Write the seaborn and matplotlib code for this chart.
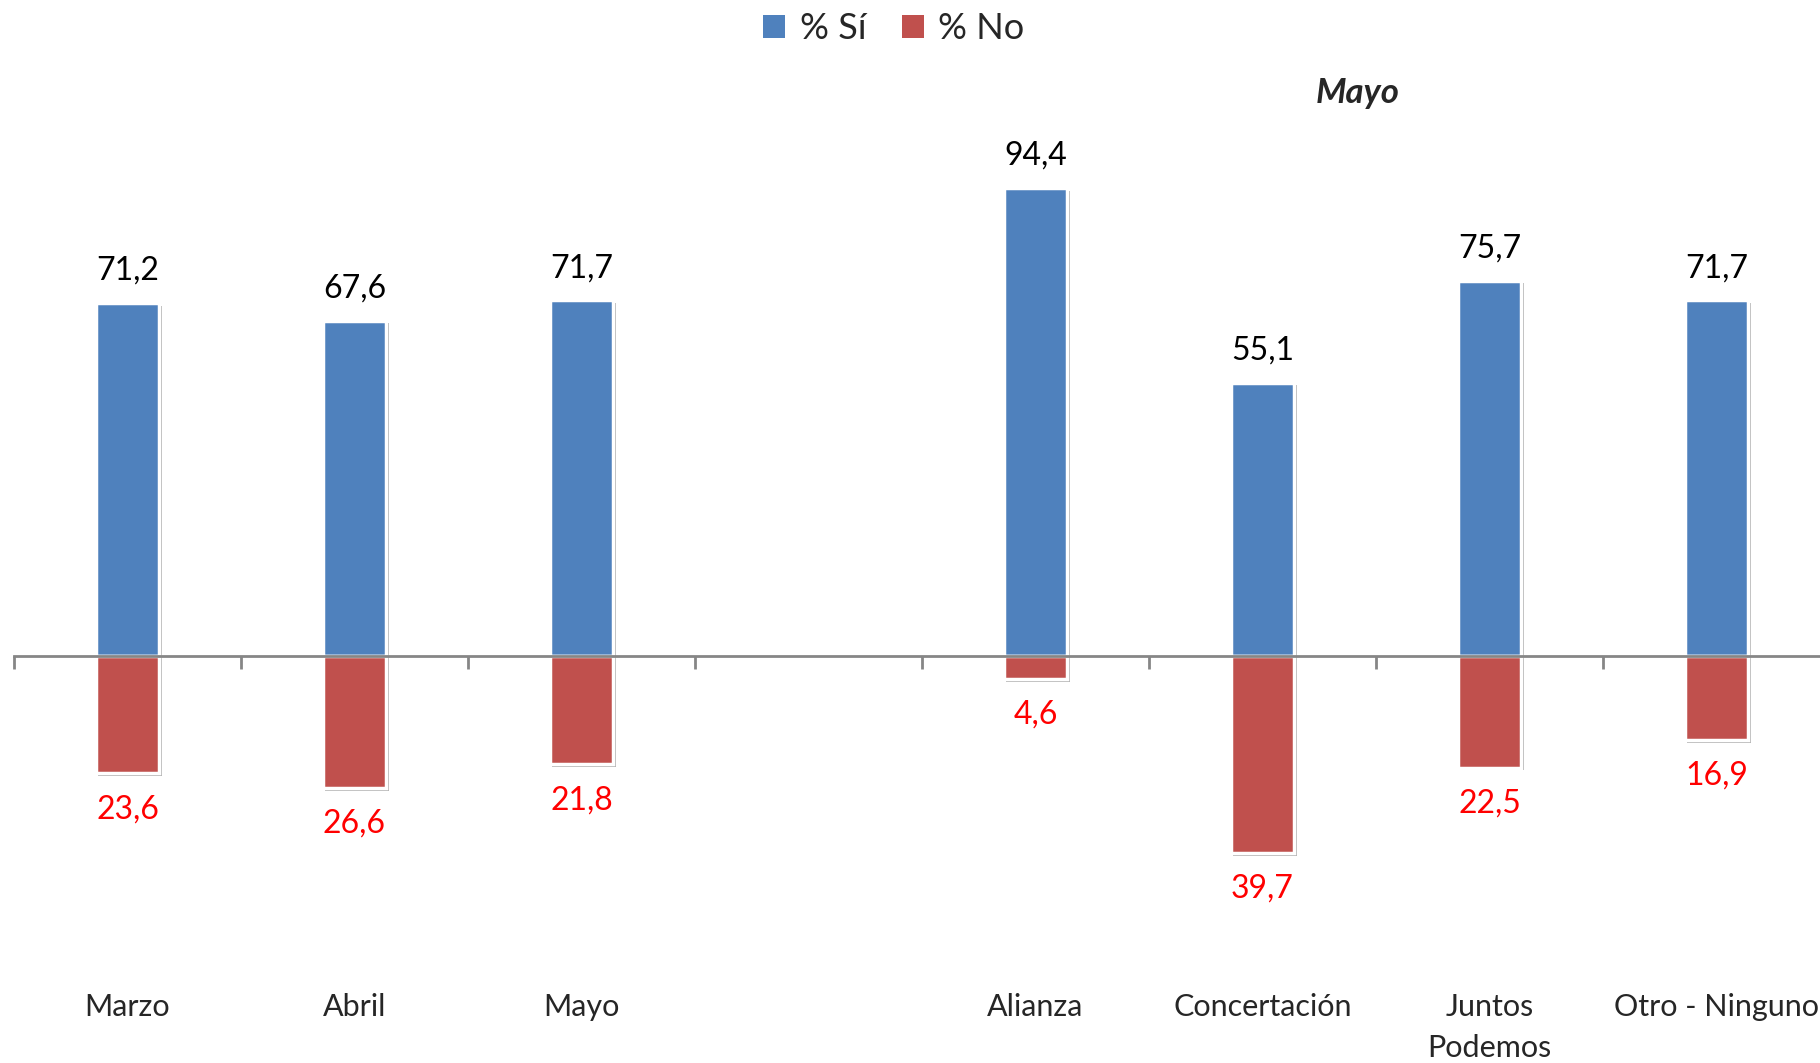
import numpy as np
import pandas as pd
import seaborn as sns
from matplotlib import pyplot as plt
from matplotlib.patches import Patch
from matplotlib.ticker import FixedLocator
import matplotlib.patheffects as pe

# data
categories = ['Marzo', 'Abril', 'Mayo', ' ', 'Alianza', 'Concertación', 'Juntos\nPodemos', 'Otro - Ninguno']
si_values = [71.2, 67.6, 71.7, np.nan, 94.4, 55.1, 75.7, 71.7]
no_values = [23.6, 26.6, 21.8, np.nan, 4.6, 39.7, 22.5, 16.9]
series = ['% Sí', '% No']
colors = ['#4F81BD', '#C0504D']

df = pd.DataFrame({
    'cat': categories * 2,
    'serie': [series[0]] * len(categories) + [series[1]] * len(categories),
    'valor': si_values + [-v for v in no_values],
})

sns.set_style('white')
plt.rcParams['font.family'] = ['Lato', 'DejaVu Sans']

fig = plt.figure(figsize=(18.2, 10.63), dpi=100)
ax = fig.add_axes([14 / 1820, 1 - 900 / 1063, 1806 / 1820, 800 / 1063])

sns.barplot(data=df, x='cat', y='valor', hue='serie', order=categories,
            hue_order=series, palette=colors, dodge=False, width=0.28,
            saturation=1, edgecolor='white', linewidth=2.5, ax=ax, legend=False)

shadow = [pe.SimplePatchShadow(offset=(2, -2), shadow_rgbFace='#000000', alpha=0.3), pe.Normal()]
for p in ax.patches:
    p.set_path_effects(shadow)

ax.set_xlim(-0.5, 7.456)
ax.set_ylim(-49.2, 112.1)

# value labels
for i, (s, n) in enumerate(zip(si_values, no_values)):
    if np.isnan(s):
        continue
    ax.annotate(f'{s:.1f}'.replace('.', ','), (i, s), xytext=(0, 23),
                textcoords='offset points', ha='center', va='center',
                fontsize=23, color='black')
    ax.annotate(f'{n:.1f}'.replace('.', ','), (i, -n), xytext=(0, -26),
                textcoords='offset points', ha='center', va='center',
                fontsize=23, color='#FF0000')

# axis line through zero with boundary ticks
for sp in ['top', 'right', 'left']:
    ax.spines[sp].set_visible(False)
ax.spines['bottom'].set_position(('data', 0))
ax.spines['bottom'].set_color('#868686')
ax.spines['bottom'].set_linewidth(2)
ax.set_yticks([])
ax.set_ylabel('')
ax.set_xlabel('')
ax.xaxis.set_major_locator(FixedLocator(np.arange(-0.5, 8, 1)))
ax.xaxis.set_minor_locator(FixedLocator(np.arange(len(categories))))
ax.xaxis.set_major_formatter(plt.NullFormatter())
ax.set_xticks(np.arange(len(categories)), categories, minor=True)
ax.tick_params(axis='x', which='major', direction='out', length=9, width=2,
               color='#868686', bottom=True)
ax.tick_params(axis='x', which='minor', length=0, pad=243, labelsize=22)
for lbl in ax.get_xticklabels(minor=True):
    lbl.set_verticalalignment('top')
    lbl.set_linespacing(1.55)

fig.text(1358 / 1820, 1 - 93 / 1063, 'Mayo', ha='center', va='center',
         fontsize=25, fontweight='bold', fontstyle='italic')

handles = [Patch(facecolor=c, edgecolor='none', label=s) for c, s in zip(colors, series)]
fig.legend(handles=handles, loc='center', bbox_to_anchor=(894 / 1820, 1 - 29 / 1063),
           ncol=2, frameon=False, fontsize=26, handlelength=0.6, handleheight=0.6,
           handletextpad=0.4, columnspacing=1.0)

fig.savefig('out.png', dpi=100)
